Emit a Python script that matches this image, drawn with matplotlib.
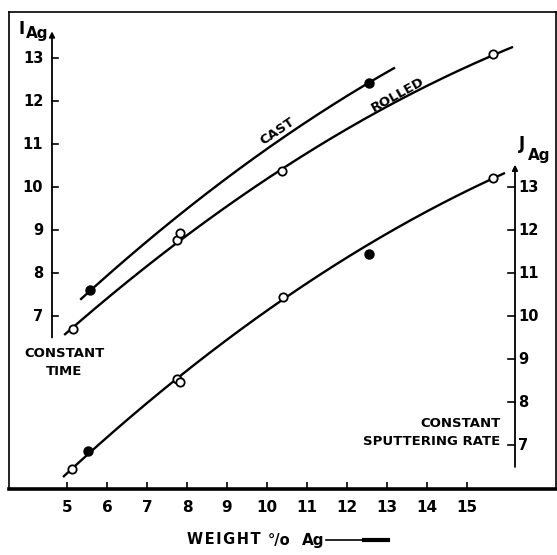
import numpy as np
from matplotlib import pyplot as plt

# --- data ---
# left scale: I_Ag (constant time), right scale: J_Ag (constant sputtering rate)
cast_x = [5.575, 12.55]
cast_i = [7.60, 12.42]
cast_curve_x = [5.33, 5.575, 6.83, 8.95, 9.33, 12.33, 12.55, 13.2]
cast_curve_i = [7.35, 7.60, 8.63, 10.16, 10.44, 12.30, 12.42, 12.79]

rolled_x = [5.15, 7.75, 7.83, 10.375, 15.65]
rolled_i = [6.70, 8.77, 8.93, 10.37, 13.09]
rolled_curve_x = [4.93, 5.15, 6.83, 7.79, 9.33, 9.83, 10.375, 12.33, 14.38, 15.65, 16.15]
rolled_curve_i = [6.49, 6.70, 8.12, 8.85, 9.81, 10.05, 10.37, 11.44, 12.49, 13.09, 13.30]

sput_open_x = [5.13, 7.75, 7.83, 10.4, 15.65]
sput_open_j = [6.44, 8.53, 8.47, 10.44, 13.2]
sput_fill_x = [5.53, 12.55]
sput_fill_j = [6.86, 11.45]
sput_curve_x = [4.9, 5.13, 5.53, 7.79, 8.83, 10.4, 11.53, 12.83, 15.65, 15.95]
sput_curve_j = [6.23, 6.44, 6.86, 8.5, 9.35, 10.44, 11.07, 11.81, 13.2, 13.33]

x_ticks = [5, 6, 7, 8, 9, 10, 11, 12, 13, 14, 15]
i_ticks = [7, 8, 9, 10, 11, 12, 13]
j_ticks = [7, 8, 9, 10, 11, 12, 13]

J_SHIFT = 3.0      # J_Ag value = I_Ag position + 3 on the drawing
I_AXIS_X = 4.625   # where the left scale is drawn
J_AXIS_X = 16.2    # where the right scale is drawn


def smooth_curve(xs, ys):
    # hand drawn curves in the original -> draw a fitted smooth trend through the read points
    coef = np.polyfit(xs, ys, 2)
    xx = np.linspace(min(xs), max(xs), 200)
    return xx, np.polyval(coef, xx)


plt.rcParams['font.family'] = 'DejaVu Sans'
plt.rcParams['font.weight'] = 'bold'

fig = plt.figure(figsize=(5.57, 5.55), dpi=100)
ax = fig.add_axes([9 / 557, 1 - 489 / 555, 547 / 557, 477 / 555])
ax.set_xlim(3.55, 17.225)
ax.set_ylim(2.977, 14.07)

for side in ['top', 'left', 'right']:
    ax.spines[side].set_linewidth(1.2)
ax.spines['bottom'].set_linewidth(2.6)

ax.set_xticks(x_ticks)
ax.set_xticklabels([str(t) for t in x_ticks], fontsize=11, fontweight='bold')
ax.tick_params(axis='x', direction='in', length=5, width=1.2, pad=8)
ax.set_yticks([])

lw = 1.7
# curves
cx, cy = smooth_curve(cast_curve_x, cast_curve_i)
ax.plot(cx, cy, color='black', lw=lw, solid_capstyle='butt')
rx, ry = smooth_curve(rolled_curve_x, rolled_curve_i)
ax.plot(rx, ry, color='black', lw=lw, solid_capstyle='butt')
sx, sy = smooth_curve(sput_curve_x, np.array(sput_curve_j) - J_SHIFT)
ax.plot(sx, sy, color='black', lw=lw, solid_capstyle='butt')

# markers
ax.plot(cast_x, cast_i, 'o', color='black', ms=6.5, zorder=5)
ax.plot(rolled_x, rolled_i, 'o', mfc='white', mec='black', mew=1.3, ms=6, zorder=5)
ax.plot(sput_open_x, np.array(sput_open_j) - J_SHIFT, 'o', mfc='white', mec='black',
        mew=1.3, ms=6, zorder=5)
ax.plot(sput_fill_x, np.array(sput_fill_j) - J_SHIFT, 'o', color='black', ms=6.5, zorder=5)

# left scale (I_Ag)
ax.annotate('', xy=(I_AXIS_X, 13.62), xytext=(I_AXIS_X, 6.5),
            arrowprops=dict(arrowstyle='-|>', lw=1.3, color='black', mutation_scale=8,
                            shrinkA=0, shrinkB=0))
for t in i_ticks:
    ax.plot([I_AXIS_X, I_AXIS_X + 0.15], [t, t], color='black', lw=1.2)
    ax.text(I_AXIS_X - 0.22, t, str(t), ha='right', va='center', fontsize=10.5,
            fontweight='bold')
ax.text(3.87, 13.68, 'I', fontsize=12, fontweight='bold', ha='center', va='center')
ax.text(4.25, 13.58, 'Ag', fontsize=11, fontweight='bold', ha='center', va='center')

# right scale (J_Ag)
ax.annotate('', xy=(J_AXIS_X, 13.52 - J_SHIFT), xytext=(J_AXIS_X, 3.49),
            arrowprops=dict(arrowstyle='-|>', lw=1.3, color='black', mutation_scale=8,
                            shrinkA=0, shrinkB=0))
for t in j_ticks:
    ax.plot([J_AXIS_X - 0.17, J_AXIS_X], [t - J_SHIFT, t - J_SHIFT], color='black', lw=1.2)
    ax.text(J_AXIS_X + 0.08, t - J_SHIFT, str(t), ha='left', va='center', fontsize=10.5,
            fontweight='bold')
ax.text(16.3, 10.78, 'J', fontsize=12, fontweight='bold', ha='left', va='bottom')
ax.text(16.52, 10.73, 'Ag', fontsize=11, fontweight='bold', ha='left', va='center')

# curve labels
ax.text(10.25, 11.30, 'CAST', rotation=34, fontsize=9.5, fontweight='bold',
        ha='center', va='center', rotation_mode='anchor')
ax.text(13.275, 12.14, 'ROLLED', rotation=29, fontsize=9.5, fontweight='bold',
        ha='center', va='center', rotation_mode='anchor')

ax.text(4.925, 5.93, 'CONSTANT\nTIME', fontsize=9.5, fontweight='bold', ha='center',
        va='center', linespacing=1.5)
ax.text(15.83, 4.30, 'CONSTANT\nSPUTTERING RATE', fontsize=9.5, fontweight='bold',
        ha='right', va='center', multialignment='right', linespacing=1.5)

# axis title with arrow
ty = 1 - 540 / 555
fig.text(187 / 557, ty, '\u200a'.join('WEIGHT'), fontsize=10.5, fontweight='bold',
         ha='left', va='center')
fig.text(268 / 557, ty, '°/o', fontsize=10.5, fontweight='bold', ha='left', va='center')
fig.text(302 / 557, ty, 'Ag', fontsize=11, fontweight='bold', ha='left', va='center')
fig.add_artist(plt.Line2D([326 / 557, 372 / 557], [ty, ty],
                          color='black', lw=1.2, transform=fig.transFigure))
fig.add_artist(plt.Line2D([364 / 557, 388 / 557], [ty, ty],
                          color='black', lw=3, transform=fig.transFigure))

fig.savefig('out.png', dpi=100)
